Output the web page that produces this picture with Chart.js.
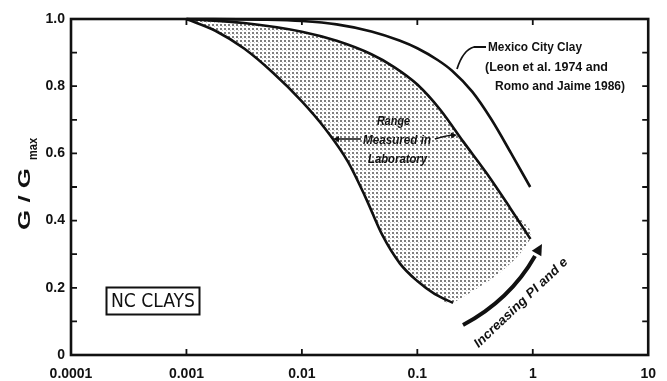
<!DOCTYPE html>
<html>
<head>
<meta charset="utf-8">
<script src="https://cdn.jsdelivr.net/npm/chart.js@4/dist/chart.umd.min.js"></script>
<style>
html, body { margin: 0; padding: 0; background: #fff; }
#wrap { width: 667px; height: 381px; }
</style>
</head>
<body>
<div id="wrap"><canvas id="chart" width="667" height="381"></canvas></div>
<script>
// axis ticks
var xTicks = [0.0001, 0.001, 0.01, 0.1, 1, 10];
var xTickLabels = ['0.0001', '0.001', '0.01', '0.1', '1', '10'];
var yTicks = [0, 0.2, 0.4, 0.6, 0.8, 1.0];
var yTickLabels = ['0', '0.2', '0.4', '0.6', '0.8', '1.0'];

// Mexico City clay curve
var mexicoX = [0.001, 0.005, 0.01, 0.02, 0.04, 0.07, 0.1, 0.15, 0.2, 0.3, 0.44, 0.65, 0.95];
var mexicoY = [1.0, 0.998, 0.994, 0.984, 0.963, 0.936, 0.913, 0.878, 0.846, 0.783, 0.70, 0.60, 0.50];

// range measured in laboratory, upper bound
var upperX = [0.001, 0.00316, 0.01, 0.02, 0.04, 0.063, 0.1, 0.158, 0.25, 0.4, 0.63, 0.955];
var upperY = [1.0, 0.988, 0.962, 0.935, 0.895, 0.857, 0.805, 0.73, 0.635, 0.54, 0.44, 0.345];

// range measured in laboratory, lower bound
var lowerX = [0.001, 0.00178, 0.00316, 0.00562, 0.01, 0.0158, 0.0251, 0.0355, 0.0501, 0.0708, 0.1, 0.141, 0.204];
var lowerY = [1.0, 0.965, 0.912, 0.84, 0.755, 0.675, 0.575, 0.47, 0.355, 0.272, 0.22, 0.182, 0.155];

function toPoints(xs, ys) {
    return xs.map(function (x, i) { return { x: x, y: ys[i] }; });
}

function dotPattern() {
    var c = document.createElement('canvas');
    c.width = 4; c.height = 4;
    var g = c.getContext('2d');
    g.fillStyle = 'rgba(40,40,40,0.6)';
    g.fillRect(0, 0, 2, 2);
    g.fillStyle = 'rgba(40,40,40,0.25)';
    g.fillRect(2, 2, 1, 1);
    return g.createPattern(c, 'repeat');
}

function arrowHead(ctx, x, y, angle, size) {
    ctx.save();
    ctx.translate(x, y);
    ctx.rotate(angle);
    ctx.beginPath();
    ctx.moveTo(0, 0);
    ctx.lineTo(-size, -size * 0.5);
    ctx.lineTo(-size, size * 0.5);
    ctx.closePath();
    ctx.fill();
    ctx.restore();
}

// draw text squeezed or stretched to a given width
function fitText(ctx, text, x, y, width) {
    var w = ctx.measureText(text).width;
    ctx.save();
    ctx.translate(x, y);
    ctx.scale(width / w, 1);
    ctx.fillText(text, 0, 0);
    ctx.restore();
}

var shapePoints = toPoints(upperX, upperY).concat(toPoints(lowerX, lowerY).reverse());

var framePlugin = {
    id: 'frame',
    afterDraw: function (chart) {
        var ctx = chart.ctx;
        var a = chart.chartArea;
        var xs = chart.scales.x, ys = chart.scales.y;
        ctx.save();
        ctx.strokeStyle = '#111';
        ctx.fillStyle = '#111';
        ctx.lineWidth = 2.6;
        ctx.strokeRect(a.left, a.top, a.right - a.left, a.bottom - a.top);

        // inward ticks
        ctx.lineWidth = 1.8;
        ctx.beginPath();
        for (var v = 1; v < 10; v++) {
            var py = ys.getPixelForValue(v / 10);
            ctx.moveTo(a.left, py); ctx.lineTo(a.left + 6, py);
            ctx.moveTo(a.right, py); ctx.lineTo(a.right - 6, py);
        }
        xTicks.slice(1, -1).forEach(function (t) {
            var px = xs.getPixelForValue(t);
            ctx.moveTo(px, a.bottom); ctx.lineTo(px, a.bottom - 6);
            ctx.moveTo(px, a.top); ctx.lineTo(px, a.top + 6);
        });
        ctx.stroke();

        // y title
        ctx.save();
        ctx.translate(24, 184);
        ctx.rotate(-Math.PI / 2);
        ctx.textAlign = 'left';
        ctx.textBaseline = 'alphabetic';
        ctx.font = 'bold 17px "Liberation Sans", Arial, sans-serif';
        fitText(ctx, 'G / G', -46, 6, 62);
        ctx.font = 'bold 13px "Liberation Sans", Arial, sans-serif';
        fitText(ctx, 'max', 24, 13, 22);
        ctx.restore();

        // Mexico City clay note
        ctx.font = 'bold 12px "Liberation Sans", Arial, sans-serif';
        ctx.textAlign = 'left';
        ctx.textBaseline = 'middle';
        fitText(ctx, 'Mexico City Clay', 488, 48, 94);
        fitText(ctx, '(Leon et al. 1974 and', 485, 68, 123);
        fitText(ctx, 'Romo and Jaime 1986)', 495, 87, 130);
        ctx.lineWidth = 1.8;
        ctx.beginPath();
        ctx.moveTo(486, 47);
        ctx.lineTo(474, 47);
        ctx.quadraticCurveTo(463, 50, 457, 69);
        ctx.stroke();

        // range note
        ctx.font = 'italic bold 12px "Liberation Sans", Arial, sans-serif';
        ctx.textAlign = 'left';
        fitText(ctx, 'Range', 377, 122, 33);
        fitText(ctx, 'Measured in', 363, 141, 68);
        fitText(ctx, 'Laboratory', 368, 160, 59);
        ctx.lineWidth = 1.6;
        ctx.beginPath();
        ctx.moveTo(361, 139);
        ctx.lineTo(338, 139);
        ctx.moveTo(435, 139);
        ctx.quadraticCurveTo(445, 136, 452, 135);
        ctx.stroke();
        arrowHead(ctx, 333, 139, Math.PI, 6);
        arrowHead(ctx, 457, 135, -0.1, 6);

        // NC CLAYS box
        ctx.lineWidth = 2;
        ctx.strokeRect(106.5, 287.5, 93, 27);
        ctx.font = '20px "Liberation Sans Narrow", "DejaVu Sans Condensed", Arial, sans-serif';
        ctx.textAlign = 'left';
        ctx.textBaseline = 'middle';
        fitText(ctx, 'NC CLAYS', 111, 302, 84);

        // increasing PI arrow
        ctx.lineWidth = 4;
        ctx.beginPath();
        ctx.moveTo(463, 325);
        ctx.quadraticCurveTo(510, 300, 535, 256);
        ctx.stroke();
        arrowHead(ctx, 542, 244, -1.05, 11);
        ctx.save();
        ctx.translate(521, 303);
        ctx.rotate(-0.76);
        ctx.font = 'italic bold 13px "Liberation Sans", Arial, sans-serif';
        ctx.textAlign = 'left';
        ctx.textBaseline = 'middle';
        fitText(ctx, 'Increasing PI and e', -62, 0, 124);
        ctx.restore();

        ctx.restore();
    }
};

var ctx = document.getElementById('chart').getContext('2d');
var tickFont = { family: '"Liberation Sans", Arial, sans-serif', size: 14, weight: 'bold' };

var myChart = new Chart(ctx, {
    type: 'line',
    data: {
        datasets: [{
            data: shapePoints,
            borderWidth: 0,
            backgroundColor: dotPattern(),
            fill: 'shape',
            tension: 0.4,
            pointRadius: 0,
            order: 5
        }, {
            data: toPoints(lowerX, lowerY),
            borderColor: '#111',
            borderWidth: 2.6,
            fill: false,
            cubicInterpolationMode: 'monotone',
            pointRadius: 0,
            clip: 6,
            order: 1
        }, {
            data: toPoints(upperX, upperY),
            borderColor: '#111',
            borderWidth: 2.6,
            fill: false,
            cubicInterpolationMode: 'monotone',
            pointRadius: 0,
            clip: 6,
            order: 1
        }, {
            data: toPoints(mexicoX, mexicoY),
            borderColor: '#111',
            borderWidth: 2.6,
            fill: false,
            cubicInterpolationMode: 'monotone',
            pointRadius: 0,
            clip: 6,
            order: 1
        }]
    },
    options: {
        responsive: false,
        animation: false,
        layout: { padding: { top: 19, right: 16, left: 0, bottom: 0 } },
        plugins: {
            legend: { display: false },
            tooltip: { enabled: false }
        },
        scales: {
            x: {
                type: 'logarithmic',
                min: 0.0001,
                max: 10,
                afterBuildTicks: function (scale) {
                    scale.ticks = xTicks.map(function (v) { return { value: v }; });
                },
                afterFit: function (scale) { scale.height = 26; },
                grid: { display: false, drawTicks: false },
                border: { display: false },
                ticks: {
                    autoSkip: false,
                    maxRotation: 0,
                    padding: 11,
                    color: '#111',
                    font: tickFont,
                    callback: function (value, index) { return xTickLabels[index]; }
                }
            },
            y: {
                type: 'linear',
                min: 0,
                max: 1,
                afterBuildTicks: function (scale) {
                    scale.ticks = yTicks.map(function (v) { return { value: v }; });
                },
                afterFit: function (scale) { scale.width = 71; },
                grid: { display: false, drawTicks: false },
                border: { display: false },
                ticks: {
                    padding: 6,
                    color: '#111',
                    font: tickFont,
                    callback: function (value, index) { return yTickLabels[index]; }
                }
            }
        }
    },
    plugins: [framePlugin]
});
</script>
</body>
</html>
